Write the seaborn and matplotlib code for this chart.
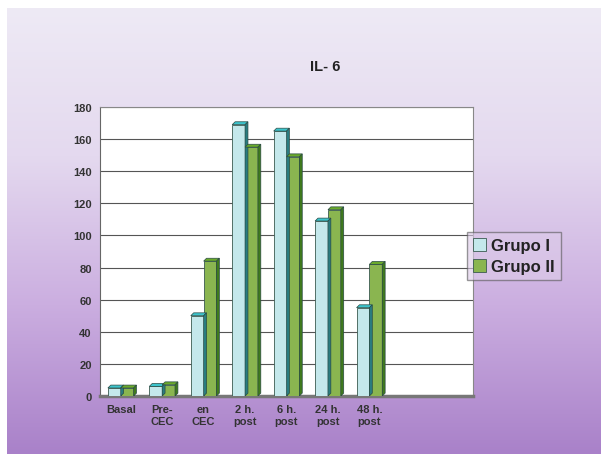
import numpy as np
import pandas as pd
import matplotlib
matplotlib.use('Agg')
import matplotlib.pyplot as plt
from matplotlib.patches import Polygon
from matplotlib.colors import LinearSegmentedColormap
import seaborn as sns

# Data
categories = ['Basal', 'Pre-\nCEC', 'en\nCEC', '2 h.\npost', '6 h.\npost', '24 h.\npost', '48 h.\npost', ' ', '  ']
grupo_1 = [5, 6, 50, 169, 165, 109, 55, np.nan, np.nan]
grupo_2 = [5, 7, 84, 155, 149, 116, 82, np.nan, np.nan]
series = ['Grupo I', 'Grupo II']

df = pd.DataFrame({'cat': categories, 'Grupo I': grupo_1, 'Grupo II': grupo_2})
df = pd.melt(df, id_vars='cat', var_name='grupo', value_name='valor')

sns.set_style('white')
plt.rcParams['font.family'] = ['Liberation Sans', 'DejaVu Sans']

fig = plt.figure(figsize=(6.08, 4.6), dpi=100, facecolor='white')

# slide background: vertical lavender -> purple gradient
bg = fig.add_axes([0.012, 0.01, 0.976, 0.97])
cmap = LinearSegmentedColormap.from_list('slide', ['#eeeaf5', '#e4d9ef', '#cbaee0', '#a981c9'])
bg.imshow(np.linspace(0, 1, 256).reshape(-1, 1), aspect='auto', cmap=cmap, extent=[0, 1, 0, 1])
bg.set_axis_off()

ax = fig.add_axes([100 / 608, 1 - 397 / 460, 373 / 608, 289 / 460])
ax.set_facecolor('white')

colors = {'Grupo I': '#bdeef2', 'Grupo II': '#8cc63f'}
tops = {'Grupo I': '#3cc4cc', 'Grupo II': '#6aaa2a'}
sides = {'Grupo I': '#2a7c80', 'Grupo II': '#3f7a1c'}

sns.barplot(ax=ax, data=df, x='cat', y='valor', hue='grupo', palette=colors,
            width=0.62, edgecolor='#3a5a50', linewidth=0.6, zorder=3)

# fake 3D faces on each bar
dx, dy = 0.07, 1.8
for cont, name in zip(ax.containers, series):
    for p in cont.patches:
        h = p.get_height()
        if np.isnan(h) or h == 0:
            continue
        x0 = p.get_x()
        x1 = x0 + p.get_width()
        ax.add_patch(Polygon([[x0, h], [x1, h], [x1 + dx, h + dy], [x0 + dx, h + dy]],
                             closed=True, facecolor=tops[name], edgecolor='#2a4a44', lw=0.5, zorder=3))
        ax.add_patch(Polygon([[x1, 0], [x1, h], [x1 + dx, h + dy], [x1 + dx, dy]],
                             closed=True, facecolor=sides[name], edgecolor='#2a4a44', lw=0.5, zorder=3))

ax.set_xlim(-0.5, len(categories) - 0.5)
ax.set_ylim(0, 180)
ax.set_yticks(range(0, 181, 20))
ax.yaxis.grid(True, color='#555555', linewidth=0.8, zorder=0)
ax.set_axisbelow(True)
ax.set_xlabel('')
ax.set_ylabel('')
for s in ['top', 'right']:
    ax.spines[s].set_color('#888888')
    ax.spines[s].set_linewidth(0.8)
ax.spines['left'].set_color('#666666')
ax.spines['bottom'].set_color('#777777')
ax.spines['bottom'].set_linewidth(2.5)

ax.set_xticks(np.arange(-0.5, len(categories), 1), minor=True)
ax.tick_params(axis='x', which='major', length=0, pad=6)
ax.tick_params(axis='x', which='minor', length=4, color='#444444', direction='out')
ax.tick_params(axis='y', length=4, color='#444444', direction='out', pad=2)
for lab in ax.get_xticklabels() + ax.get_yticklabels():
    lab.set_fontsize(8)
    lab.set_fontweight('bold')
    lab.set_color('#333333')

fig.text(325 / 608, 1 - 67 / 460, 'IL- 6', ha='center', va='center',
         fontsize=10.5, fontweight='bold', color='#222222')

handles, labels = ax.get_legend_handles_labels()
leg = ax.legend(handles, labels, loc='center left', bbox_to_anchor=(467 / 608, 1 - 257 / 460),
                bbox_transform=fig.transFigure, frameon=True, fancybox=False, borderaxespad=0,
                handlelength=0.8, handleheight=0.8, handletextpad=0.3, borderpad=0.35,
                labelspacing=0.35, prop={'size': 12, 'weight': 'bold'})
leg.get_frame().set_edgecolor('#555555')
leg.get_frame().set_facecolor('#ddcbe9')
leg.get_frame().set_alpha(0.6)
for t in leg.get_texts():
    t.set_color('#222222')

fig.savefig('out.png', dpi=100)
plt.close()
